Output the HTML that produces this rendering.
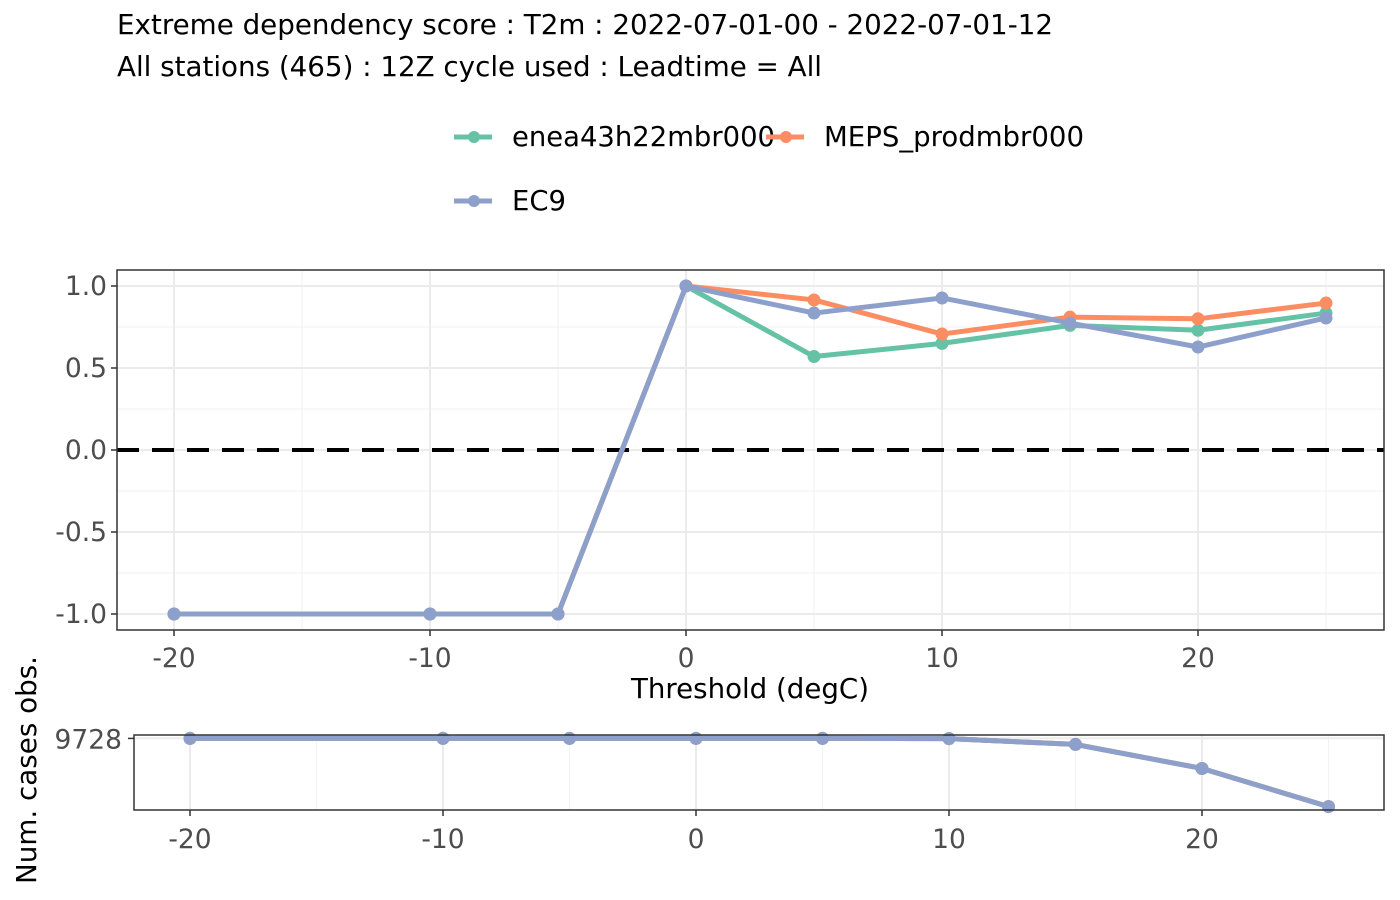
<!DOCTYPE html>
<html><head><meta charset="utf-8">
<style>
body{margin:0;background:#fff;}
svg{display:block;font-family:"DejaVu Sans","Liberation Sans",sans-serif;}
</style></head>
<body>
<svg id="chart" width="1400" height="900" xmlns="http://www.w3.org/2000/svg">
<text x="117" y="34" font-size="27.5" textLength="936" lengthAdjust="spacingAndGlyphs" fill="#000">Extreme dependency score : T2m : 2022-07-01-00 - 2022-07-01-12</text>
<text x="117" y="76" font-size="27.5" textLength="705" lengthAdjust="spacingAndGlyphs" fill="#000">All stations (465) : 12Z cycle used : Leadtime = All</text>
<g>
 <g><line x1="454" y1="137" x2="492" y2="137" stroke="#66C2A5" stroke-width="5"/><circle cx="474" cy="137" r="6" fill="#66C2A5"/><text x="512" y="146" font-size="27.5" textLength="263" lengthAdjust="spacingAndGlyphs">enea43h22mbr000</text></g>
 <g><line x1="766" y1="137" x2="804" y2="137" stroke="#FC8D62" stroke-width="5"/><circle cx="786" cy="137" r="6" fill="#FC8D62"/><text x="824" y="146" font-size="27.5" textLength="260" lengthAdjust="spacingAndGlyphs">MEPS_prodmbr000</text></g>
 <g><line x1="454" y1="201" x2="492" y2="201" stroke="#8DA0CB" stroke-width="5"/><circle cx="474" cy="201" r="6" fill="#8DA0CB"/><text x="512" y="210" font-size="27.5" textLength="54" lengthAdjust="spacingAndGlyphs">EC9</text></g>
</g>
<g id="main"></g>
<g id="bottom"></g>
<text x="750" y="698" font-size="27.5" text-anchor="middle" textLength="238" lengthAdjust="spacingAndGlyphs">Threshold (degC)</text>
<text transform="translate(36,770) rotate(-90)" font-size="27.5" text-anchor="middle" textLength="228" lengthAdjust="spacingAndGlyphs">Num. cases obs.</text>
</svg>
<script>
const thresholds=[-20,-10,-5,0,5,10,15,20,25];
const seriesNames=["enea43h22mbr000","MEPS_prodmbr000","EC9"];
const seriesColors=["#66C2A5","#FC8D62","#8DA0CB"];
const eneaVals=[-1,-1,-1,1,0.57,0.65,0.76,0.73,0.835];
const mepsVals=[-1,-1,-1,1,0.915,0.707,0.81,0.80,0.896];
const ec9Vals=[-1,-1,-1,1,0.835,0.927,0.774,0.628,0.805];
const eneaCases=[9728,9728,9728,9728,9728,9720,9487,8525,7000];
const mepsCases=[9728,9728,9728,9728,9728,9720,9487,8525,7000];
const ec9Cases=[9728,9728,9728,9728,9728,9720,9487,8525,7000];
const xTicks=[-20,-10,0,10,20];
const xMinor=[-15,-5,5,15,25];
const yTicks=[1,0.5,0,-0.5,-1];
const yTickLabels=["1.0","0.5","0.0","-0.5","-1.0"];
const yMinor=[0.75,0.25,-0.25,-0.75];

const NS="http://www.w3.org/2000/svg";
function mk(p,t,a){const e=document.createElementNS(NS,t);for(const k in a)e.setAttribute(k,a[k]);p.appendChild(e);return e;}
const FS=26.5;

const M={l:117,r:1384,t:270,b:630};
const xMain=v=>686+(v)*25.6;
const yMain=v=>450-v*164;
const g=document.getElementById('main');
mk(g,'rect',{x:M.l,y:M.t,width:M.r-M.l,height:M.b-M.t,fill:'#fff'});
yMinor.forEach(v=>{const l=mk(g,'line',{x1:M.l,x2:M.r,y1:yMain(v),y2:yMain(v),stroke:'#f2f2f2','stroke-width':1});

});
xMinor.forEach(v=>{const l=mk(g,'line',{x1:xMain(v),x2:xMain(v),y1:M.t,y2:M.b,stroke:'#f2f2f2','stroke-width':1});

});
yTicks.forEach((v,i)=>{const y=yMain(v);
const l=mk(g,'line',{x1:M.l,x2:M.r,y1:y,y2:y,stroke:'#ebebeb','stroke-width':2});


mk(g,'line',{x1:M.l-6,x2:M.l,y1:y,y2:y,stroke:'#333','stroke-width':1.5});
const t=mk(g,'text',{x:M.l-10,y:y+9,'font-size':FS,'text-anchor':'end',fill:'#4d4d4d'});t.textContent=yTickLabels[i];

});
xTicks.forEach(v=>{const x=xMain(v);
const l=mk(g,'line',{x1:x,x2:x,y1:M.t,y2:M.b,stroke:'#ebebeb','stroke-width':2});


mk(g,'line',{x1:x,x2:x,y1:M.b,y2:M.b+6,stroke:'#333','stroke-width':1.5});
const t=mk(g,'text',{x:x,y:M.b+37,'font-size':FS,'text-anchor':'middle',fill:'#4d4d4d'});t.textContent=String(v);

});
const zl=mk(g,'line',{x1:M.l,x2:M.r,y1:yMain(0),y2:yMain(0),stroke:'#000','stroke-width':4,'stroke-dasharray':'22,13'});


[eneaVals,mepsVals,ec9Vals].forEach((vals,si)=>{
 const pts=thresholds.map((t,i)=>xMain(t)+','+yMain(vals[i])).join(' ');
 const pl=mk(g,'polyline',{points:pts,fill:'none',stroke:seriesColors[si],'stroke-width':5,'stroke-linejoin':'round'});
 
 
 thresholds.forEach((t,i)=>{const c=mk(g,'circle',{cx:xMain(t),cy:yMain(vals[i]),r:6.5,fill:seriesColors[si]});
 
 });
});
mk(g,'rect',{x:M.l,y:M.t,width:M.r-M.l,height:M.b-M.t,fill:'none',stroke:'#333','stroke-width':1.5});

const B={l:134,r:1384,t:735,b:810};
const xB=v=>696+v*25.3;
const all=eneaCases.concat(mepsCases,ec9Cases);
const cmin=Math.min(...all),cmax=Math.max(...all),pad=(cmax-cmin)*0.05;
const yB=v=>B.b-(v-(cmin-pad))/((cmax+pad)-(cmin-pad))*(B.b-B.t);
const h=document.getElementById('bottom');
mk(h,'rect',{x:B.l,y:B.t,width:B.r-B.l,height:B.b-B.t,fill:'#fff'});
xMinor.forEach(v=>{mk(h,'line',{x1:xB(v),x2:xB(v),y1:B.t,y2:B.b,stroke:'#f2f2f2','stroke-width':1});});
xTicks.forEach(v=>{const x=xB(v);
mk(h,'line',{x1:x,x2:x,y1:B.t,y2:B.b,stroke:'#ebebeb','stroke-width':2});
mk(h,'line',{x1:x,x2:x,y1:B.b,y2:B.b+6,stroke:'#333','stroke-width':1.5});
const t=mk(h,'text',{x:x,y:B.b+38,'font-size':FS,'text-anchor':'middle',fill:'#4d4d4d'});t.textContent=String(v);

});
mk(h,'line',{x1:B.l,x2:B.r,y1:yB(cmax),y2:yB(cmax),stroke:'#ebebeb','stroke-width':2});
mk(h,'line',{x1:B.l-6,x2:B.l,y1:yB(cmax),y2:yB(cmax),stroke:'#333','stroke-width':1.5});
const yl=mk(h,'text',{x:B.l-12,y:yB(cmax)+10,'font-size':FS,'text-anchor':'end',fill:'#4d4d4d'});yl.textContent=String(cmax);


[eneaCases,mepsCases,ec9Cases].forEach((vals,si)=>{
 const pts=thresholds.map((t,i)=>xB(t)+','+yB(vals[i])).join(' ');
 const pl=mk(h,'polyline',{points:pts,fill:'none',stroke:seriesColors[si],'stroke-width':5,'stroke-linejoin':'round'});
 
 
 thresholds.forEach((t,i)=>{const c=mk(h,'circle',{cx:xB(t),cy:yB(vals[i]),r:6.5,fill:seriesColors[si]});
 
 });
});
mk(h,'rect',{x:B.l,y:B.t,width:B.r-B.l,height:B.b-B.t,fill:'none',stroke:'#333','stroke-width':1.5});
</script>
</body></html>
